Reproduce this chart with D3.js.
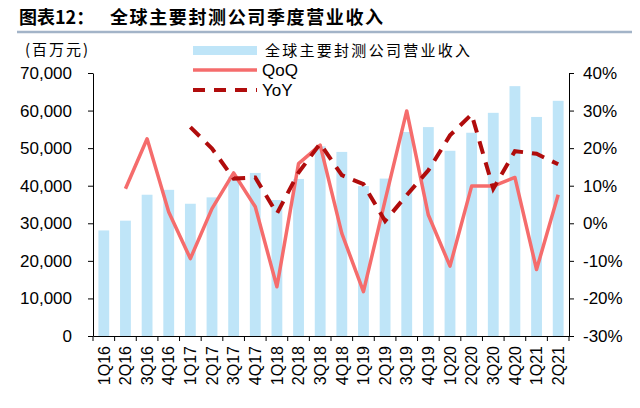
<!DOCTYPE html>
<html>
<head>
<meta charset="utf-8">
<script src="https://cdn.jsdelivr.net/npm/d3@7"></script>
<style>
  body { margin: 0; background: #fff; }
  svg { display: block; }
</style>
</head>
<body>
<svg id="chart" width="640" height="408"></svg>
<script>

// data
const quarters = ["1Q16","2Q16","3Q16","4Q16","1Q17","2Q17","3Q17","4Q17","1Q18","2Q18","3Q18",
                  "4Q18","1Q19","2Q19","3Q19","4Q19","1Q20","2Q20","3Q20","4Q20","1Q21","2Q21"]
const revenue  = [28100, 30700, 37600, 38900, 35200, 36900, 42400, 43400, 36200, 41800, 50500,
                  49000, 39900, 41900, 54300, 55600, 49300, 54100, 59400, 66500, 58300, 62600]
const qoq      = [null, 9.2, 22.5, 3.0, -9.4, 3.9, 13.4, 4.4, -16.9, 15.9, 20.8,
                  -2.7, -18.2, 6.1, 29.9, 2.2, -11.4, 9.9, 9.9, 12.2, -12.3, 7.6]
const yoy      = [null, null, null, null, 25.6, 19.9, 11.9, 12.2, 2.6, 13.5, 21.2,
                  12.8, 10.4, 0.6, 7.5, 14.1, 23.4, 29.0, 9.2, 19.2, 18.5, 15.7]
const leftTicks  = [0, 10000, 20000, 30000, 40000, 50000, 60000, 70000]
const rightTicks = [-30, -20, -10, 0, 10, 20, 30, 40]

const title     = "图表12："
const subtitle  = "全球主要封测公司季度营业收入"
const unitLabel = "(百万元)"
const seriesNames = ["全球主要封测公司营业收入", "QoQ", "YoY"]

const barColor = "#bfe5f8"
const qoqColor = "#f56c6c"
const yoyColor = "#b00c0c"

const svg = d3.select("#chart")

// plot box
const plotL = 93, plotR = 569, plotT = 73, plotB = 336

const x = d3.scaleBand().domain(quarters).range([plotL, plotR])
const yL = d3.scaleLinear().domain([0, 70000]).range([plotB, plotT])
const yR = d3.scaleLinear().domain([-30, 40]).range([plotB, plotT])

// title + rule
svg.append("text")
   .attr("x", 19).attr("y", 24)
   .style("font-family", "'Noto Sans CJK SC', sans-serif")
   .style("font-weight", "bold").style("font-size", "18px")
   .text(title)
svg.append("text")
   .attr("x", 110).attr("y", 24)
   .style("font-family", "'Noto Sans CJK SC', sans-serif")
   .style("font-weight", "bold").style("font-size", "18px")
   .attr("textLength", 273).attr("lengthAdjust", "spacing")
   .text(subtitle)
svg.append("line")
   .attr("x1", 17).attr("x2", 632).attr("y1", 32).attr("y2", 32)
   .attr("stroke", "#a3b4c8").attr("stroke-width", 2.5)

svg.append("text")
   .attr("x", 25).attr("y", 55)
   .style("font-family", "'Noto Sans CJK SC', sans-serif")
   .style("font-size", "15px")
   .attr("textLength", 63).attr("lengthAdjust", "spacing")
   .text(unitLabel)

// bars
const bw = x.bandwidth()
svg.append("g").selectAll("rect")
   .data(revenue)
   .join("rect")
   .attr("x", (d, i) => x(quarters[i]) + bw * 0.25)
   .attr("width", bw * 0.5)
   .attr("y", d => yL(d))
   .attr("height", d => plotB - yL(d))
   .attr("fill", barColor)

// lines
const cx = i => x(quarters[i]) + bw / 2
const pctLine = d3.line()
   .defined(d => d != null)
   .x((d, i) => cx(i))
   .y(d => yR(d))

svg.append("path")
   .datum(qoq)
   .attr("d", pctLine)
   .attr("fill", "none")
   .attr("stroke", qoqColor)
   .attr("stroke-width", 3.5)
   .attr("stroke-linejoin", "round")

svg.append("path")
   .datum(yoy)
   .attr("d", pctLine)
   .attr("fill", "none")
   .attr("stroke", yoyColor)
   .attr("stroke-width", 4)
   .attr("stroke-dasharray", "13,9")

// axes
const axisFont = "'Liberation Sans', Arial, sans-serif"

const gL = svg.append("g")
   .attr("transform", `translate(${plotL},0)`)
   .call(d3.axisLeft(yL).tickValues(leftTicks).tickFormat(d3.format(","))
         .tickSize(5).tickSizeOuter(0).tickPadding(16))
gL.selectAll("text").style("font-family", axisFont).style("font-size", "17px").attr("fill", "#000")

const gR = svg.append("g")
   .attr("transform", `translate(${plotR},0)`)
   .call(d3.axisRight(yR).tickValues(rightTicks).tickFormat(d => d + "%")
         .tickSize(5).tickSizeOuter(0).tickPadding(9))
gR.selectAll("text").style("font-family", axisFont).style("font-size", "17px").attr("fill", "#000")

const gX = svg.append("g")
   .attr("transform", `translate(0,${plotB})`)
   .call(d3.axisBottom(x).tickSize(0).tickSizeOuter(0).tickPadding(0))
gX.selectAll(".tick text")
   .style("font-family", axisFont).style("font-size", "16px").attr("fill", "#000")
   .attr("text-anchor", "end")
   .attr("transform", "rotate(-90)")
   .attr("x", -10).attr("y", 0).attr("dy", "0.36em")

// x ticks sit on the category boundaries
const bounds = quarters.map(q => x(q)).concat([plotR])
gX.selectAll(".bound")
   .data(bounds)
   .join("line")
   .attr("class", "bound")
   .attr("x1", d => d).attr("x2", d => d)
   .attr("y1", 0).attr("y2", 5)
   .attr("stroke", "#000")

svg.selectAll(".domain").attr("stroke", "#000")

// legend
const lg = svg.append("g")
lg.append("rect")
  .attr("x", 193).attr("y", 46).attr("width", 64).attr("height", 9)
  .attr("fill", barColor)
lg.append("line")
  .attr("x1", 193).attr("x2", 257).attr("y1", 70).attr("y2", 70)
  .attr("stroke", qoqColor).attr("stroke-width", 3.5)
lg.append("line")
  .attr("x1", 193).attr("x2", 257).attr("y1", 90).attr("y2", 90)
  .attr("stroke", yoyColor).attr("stroke-width", 4)
  .attr("stroke-dasharray", "12,9")

lg.append("text")
  .attr("x", 265).attr("y", 56)
  .style("font-family", "'Noto Sans CJK SC', sans-serif").style("font-size", "15px")
  .attr("textLength", 205).attr("lengthAdjust", "spacing")
  .text(seriesNames[0])
lg.selectAll(".lgt")
  .data(seriesNames.slice(1))
  .join("text")
  .attr("class", "lgt")
  .attr("x", 262).attr("y", (d, i) => 76 + i * 20)
  .style("font-family", axisFont).style("font-size", "17px")
  .text(d => d)

</script>
</body>
</html>
